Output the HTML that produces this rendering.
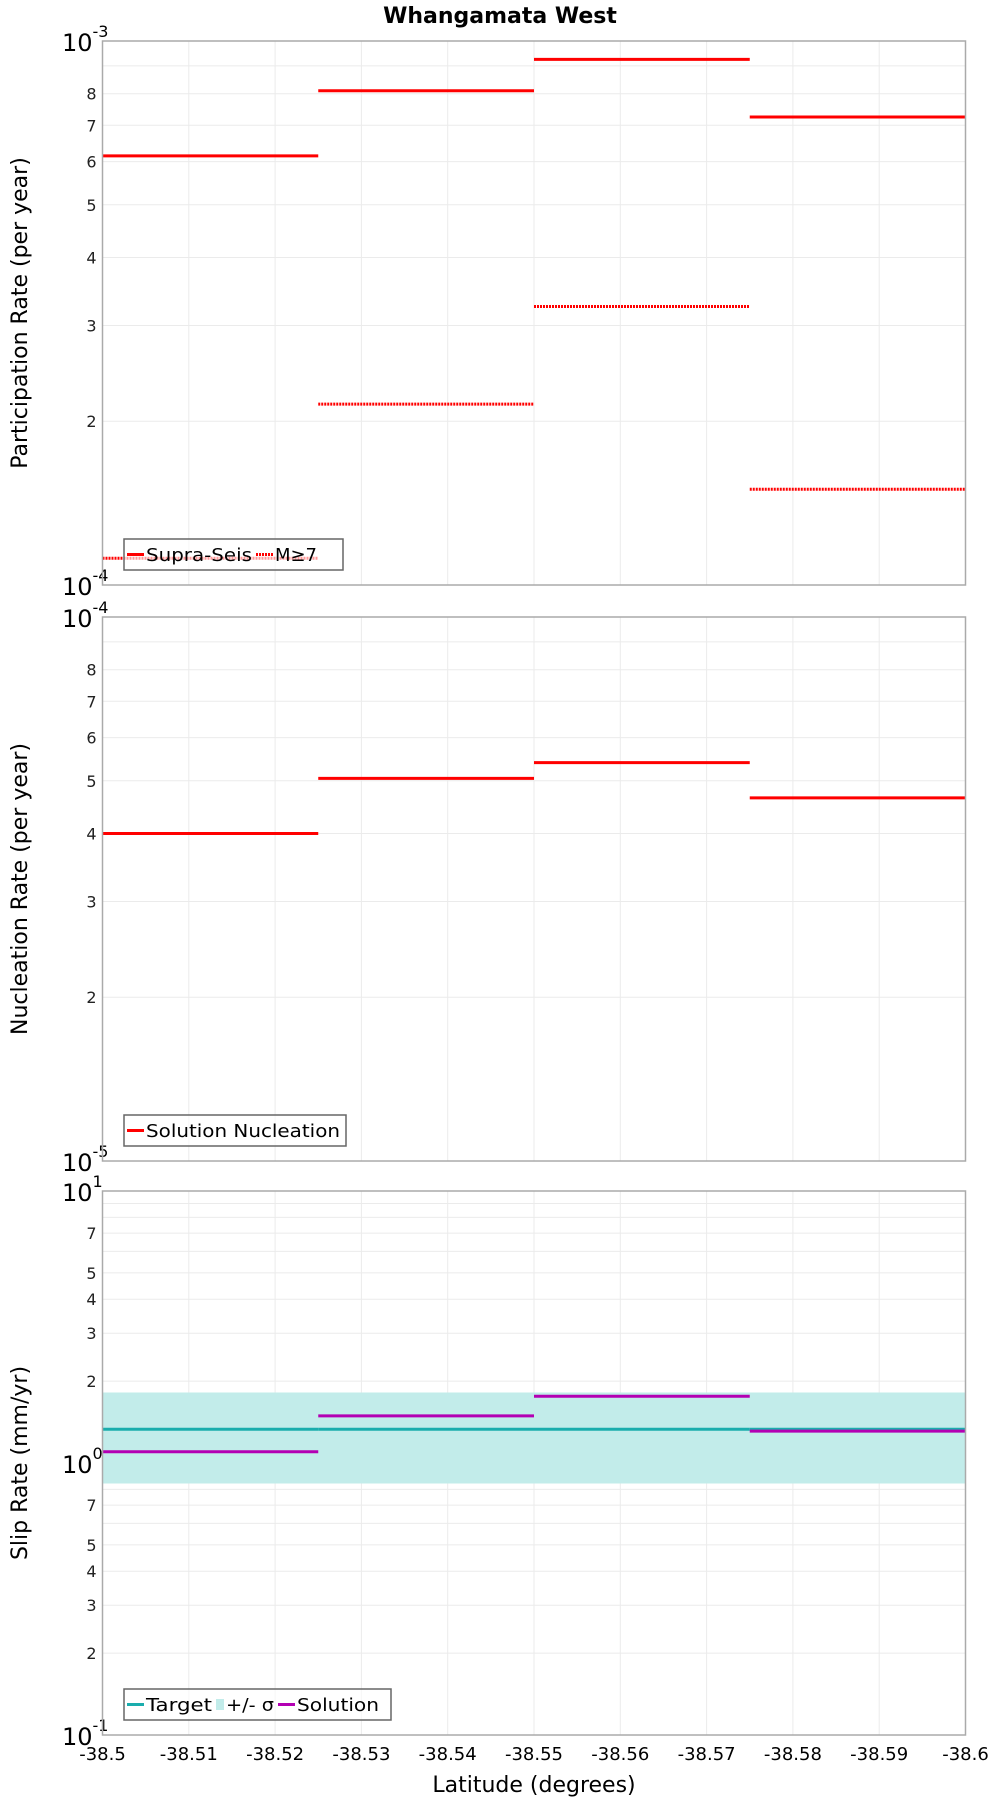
<!DOCTYPE html>
<html><head><meta charset="utf-8"><style>
html,body{margin:0;padding:0;background:#fff}
svg{display:block;font-family:"DejaVu Sans","Liberation Sans",sans-serif}
</style></head><body>
<svg id="chart" width="1000" height="1800" viewBox="0 0 1000 1800" xmlns="http://www.w3.org/2000/svg">
<text x="500" y="23" text-anchor="middle" font-size="22" font-weight="bold">Whangamata West</text>
<text x="534" y="1792" text-anchor="middle" font-size="22">Latitude (degrees)</text>
</svg>
<script>
const xTicks = [-38.5,-38.51,-38.52,-38.53,-38.54,-38.55,-38.56,-38.57,-38.58,-38.59,-38.6];
const xTickLabels = ["-38.5","-38.51","-38.52","-38.53","-38.54","-38.55","-38.56","-38.57","-38.58","-38.59","-38.6"];
const segStarts = [-38.5,-38.525,-38.55,-38.575];
const segEnds = [-38.525,-38.55,-38.575,-38.6];
const supraSeis = [6.15e-4,8.1e-4,9.25e-4,7.25e-4];
const mGe7 = [1.12e-4,2.15e-4,3.25e-4,1.5e-4];
const nucleation = [4.0e-5,5.05e-5,5.4e-5,4.65e-5];
const slipTarget = [1.33,1.33,1.33,1.33];
const slipLow = [0.84,0.84,0.84,0.84];
const slipHigh = [1.82,1.82,1.82,1.82];
const slipSolution = [1.10,1.49,1.76,1.31];

const NS="http://www.w3.org/2000/svg";
const svg=document.getElementById('chart');
const L=102.5,R=965.5;
function xs(v){return L+(v-(-38.5))/(-0.1)*(R-L);}
function mk(tag,attrs,parent){const e=document.createElementNS(NS,tag);for(const k in attrs)e.setAttribute(k,attrs[k]);(parent||svg).appendChild(e);return e;}

function panel(top,bot,minExp,maxExp,labelDigits,ytitle,pname){
  const g=mk('g',{});
  
  
  const ys=v=>bot-(Math.log10(v)-minExp)/(maxExp-minExp)*(bot-top);
  for(let e=minExp;e<maxExp;e++){
    for(let d=2;d<=9;d++){
      const y=ys(d*Math.pow(10,e));
      const gl=mk('line',{x1:L,x2:R,y1:y,y2:y,stroke:'#ebebeb','stroke-width':1},g);
      
      
      if(labelDigits.includes(d)){
        const t=mk('text',{x:L-6,y:y+6,'text-anchor':'end','font-size':16,fill:'#222'},g);
        
        
        t.textContent=d;
      }
    }
  }
  xTicks.forEach(v=>{
    const gl=mk('line',{x1:xs(v),x2:xs(v),y1:top,y2:bot,stroke:'#ebebeb','stroke-width':1},g);
    
    
  });
  for(let e=minExp;e<=maxExp;e++){
    const y=ys(Math.pow(10,e));
    const t=mk('text',{x:L-10,y:y+10,'text-anchor':'end','font-size':24},g);
    
    
    t.textContent='10';
    const s=mk('text',{x:L-10,y:y-4,'text-anchor':'start','font-size':16},g);
    
    
    s.textContent=String(e);
  }
  const yt=mk('text',{x:0,y:0,'text-anchor':'middle','font-size':22,transform:`translate(27,${(top+bot)/2}) rotate(-90)`},g);
  
  
  yt.textContent=ytitle;
  return {g,ys,frame:()=>{const f=mk('rect',{x:L,y:top,width:R-L,height:bot-top,fill:'none',stroke:'#aaa','stroke-width':1.5},g);}};
}
function segs(p,vals,color,dash,name,w){
  vals.forEach((v,i)=>{
    const a={x1:xs(segStarts[i]),x2:xs(segEnds[i]),y1:p.ys(v),y2:p.ys(v),stroke:color,'stroke-width':w||3};
    if(dash)a['stroke-dasharray']=dash;
    const l=mk('line',a,p.g);
    
    
  });
}
function legend(p,x,y,w,items){
  const lg=mk('g',{},p.g);
  
  
  const r=mk('rect',{x:x,y:y,width:w,height:31,fill:'rgba(255,255,255,0.6)',stroke:'#666','stroke-width':1.5},lg);
  
  
  let cx=x+3;
  items.forEach(it=>{
    const e=mk('g',{},lg);
    
    
    if(it.band){mk('rect',{x:cx,y:y+10,width:8,height:11,fill:'#c2ecea'},e);cx+=10;}
    else{const a={x1:cx,x2:cx+17,y1:y+15.5,y2:y+15.5,stroke:it.color,'stroke-width':3};if(it.dash)a['stroke-dasharray']=it.dash;mk('line',a,e);cx+=19;}
    const t=mk('text',{x:cx,y:y+22,'font-size':18,textLength:it.w-4,lengthAdjust:'spacingAndGlyphs'},e);
    t.textContent=it.label;
    cx+=it.w;
  });
}
const p1=panel(41,585,-4,-3,[2,3,4,5,6,7,8],'Participation Rate (per year)','participation-panel');
segs(p1,supraSeis,'#ff0000',null,'supra-seis-segment');
segs(p1,mGe7,'#ff0000','2,1','m7-segment');
legend(p1,124,539,219,[{color:'#f00',label:'Supra-Seis',w:110},{color:'#f00',dash:'2,1',label:'M≥7',w:46}]);
p1.frame();
const p2=panel(617,1161,-5,-4,[2,3,4,5,6,7,8],'Nucleation Rate (per year)','nucleation-panel');
segs(p2,nucleation,'#ff0000',null,'nucleation-segment');
legend(p2,124,1115,222,[{color:'#f00',label:'Solution Nucleation',w:198}]);
p2.frame();
const p3=panel(1191,1735,-1,1,[2,3,4,5,7],'Slip Rate (mm/yr)','slip-rate-panel');
slipLow.forEach((v,i)=>{
  const b=mk('rect',{x:xs(segStarts[i])-0.5,width:xs(segEnds[i])-xs(segStarts[i])+1,y:p3.ys(slipHigh[i]),height:p3.ys(slipLow[i])-p3.ys(slipHigh[i]),fill:'#c2ecea','shape-rendering':'crispEdges'},p3.g);
  
  
});
segs(p3,slipTarget,'#1aadad',null,'target-segment');
segs(p3,slipSolution,'#b300b3',null,'solution-segment');
legend(p3,124,1689,267,[{color:'#1aadad',label:'Target',w:70},{band:true,label:'+/- σ',w:52},{color:'#b300b3',label:'Solution',w:86}]);
p3.frame();
xTicks.forEach((v,i)=>{
  const t=mk('text',{x:xs(v),y:1760,'text-anchor':'middle','font-size':18});
  
  
  t.textContent=xTickLabels[i];
});
</script>
</body></html>
